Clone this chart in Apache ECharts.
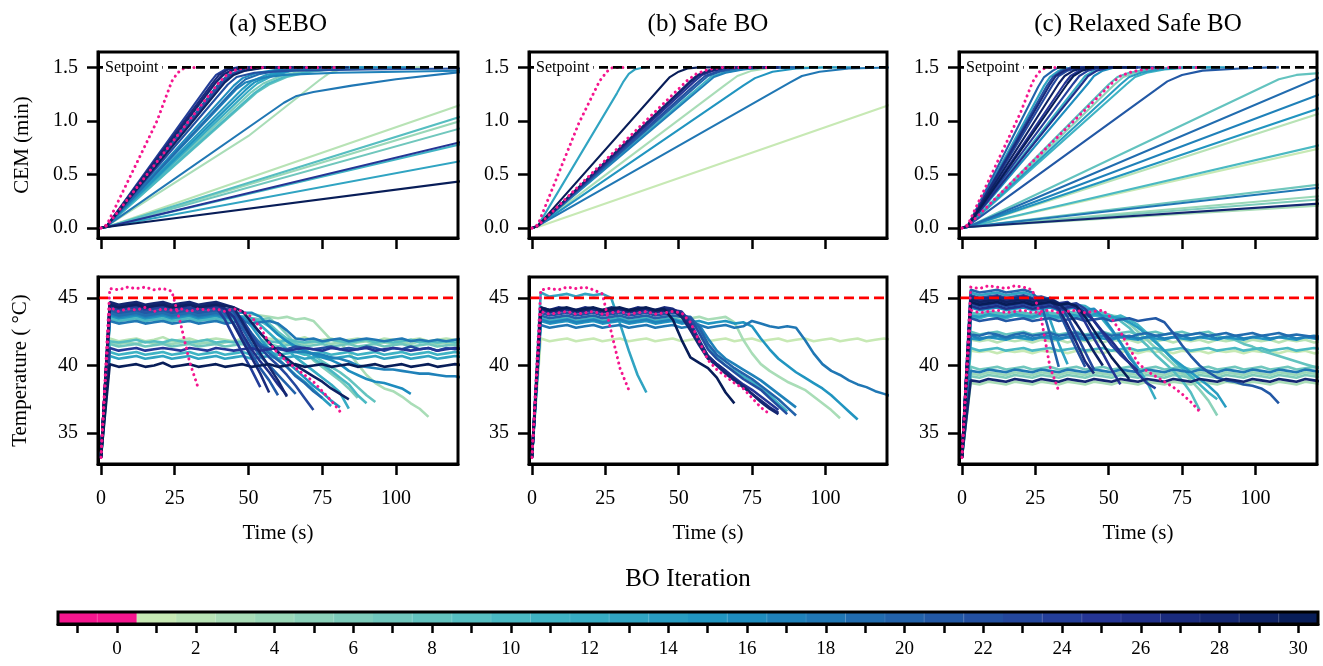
<!DOCTYPE html>
<html><head><meta charset="utf-8">
<script src="https://cdn.jsdelivr.net/npm/echarts@6/dist/echarts.min.js"></script>
<style>html,body{margin:0;padding:0;background:#fff}#c{width:1323px;height:666px}</style>
</head><body><div id="c"></div>
<script>
// ---------------- DATA ----------------
const TIME_GRID = [0,3,6,9,12,15,18,21,24,27,30,33,36,39,42,45,48,51,54,57,60,63,66,69,72,75,78,81,84,87,90,93,96,99,102,105,108,111,114,117,120,123];
const PANEL_TITLES = ['(a) SEBO','(b) Safe BO','(c) Relaxed Safe BO'];
const X_TICKS = [0,25,50,75,100];
const CEM_TICKS = [0,0.5,1.0,1.5];
const TEMP_TICKS = [35,40,45];
const CB_ITERS = [-1,0,1,2,3,4,5,6,7,8,9,10,11,12,13,14,15,16,17,18,19,20,21,22,23,24,25,26,27,28,29,30];
const SETPOINT_CEM = 1.5;
const TEMP_LIMIT = 45;

// (a) SEBO
const sebo_iters = [-1,0,24,27,26,28,21,23,29,22,16,19,17,14,12,10,3,18,20,15,8,6,2,9,4,7,25,11,13,30];
const sebo_temp = [
[33.2,45.7,45.6,45.8,45.7,45.8,45.6,45.7,45.5,43.1,40.3,38.3],
[33.2,44.3,44.0,44.2,44.1,44.3,44.0,44.2,44.1,44.2,44.0,44.2,44.1,44.2,44.0,44.2,44.0,43.6,42.8,41.7,40.9,40.3,39.8,39.3,38.8,38.1,37.4,36.6],
[33.2,44.4,44.2,44.3,44.4,44.2,44.3,44.4,44.2,44.3,44.2,44.4,44.3,44.3,43.4,42.1,40.9,39.7,38.4],
[33.2,44.6,44.4,44.5,44.6,44.4,44.5,44.6,44.4,44.5,44.6,44.4,44.5,44.6,44.2,43.0,41.8,40.6,39.4,38.0],
[33.2,44.5,44.3,44.4,44.5,44.3,44.4,44.5,44.4,44.3,44.5,44.4,44.3,44.5,44.2,43.6,42.3,41.2,40.3,39.5,38.6,37.8],
[33.2,44.7,44.5,44.6,44.7,44.5,44.6,44.7,44.5,44.6,44.7,44.5,44.6,44.7,44.5,44.3,43.2,42.0,40.9,39.9,38.9,37.7],
[33.2,44.1,43.9,44.0,44.1,43.9,44.0,44.1,43.9,44.0,44.1,43.9,44.0,44.1,43.9,43.1,42.0,40.9,39.8,38.9,37.8],
[33.2,44.3,44.1,44.2,44.3,44.1,44.2,44.3,44.1,44.2,44.3,44.1,44.2,44.3,44.2,44.1,43.4,42.3,41.3,40.6,40.0,39.3,38.5,37.6,36.7],
[33.2,44.5,44.3,44.4,44.5,44.3,44.4,44.5,44.3,44.4,44.5,44.3,44.4,44.5,44.4,44.3,44.0,43.2,42.4,41.7,41.0,40.5,40.0,39.6,39.2,38.8,38.3,37.9,37.5],
[33.2,44.3,44.1,44.2,44.3,44.1,44.2,44.3,44.1,44.2,44.3,44.1,44.2,44.3,44.1,44.0,43.0,42.0,41.4,41.2,41.3,41.2,41.4,41.3,41.2,41.3,41.4,41.2,41.3,41.2,41.4,41.3,41.1,41.3,41.2,41.4,41.2,41.3,41.1,41.3,41.2,41.3],
[33.2,44.0,43.8,43.9,44.0,43.8,43.9,44.0,43.8,43.9,44.0,43.8,43.9,44.0,43.8,43.9,43.9,43.9,43.6,42.9,42.3,41.8,41.4,41.1,40.8,40.6,40.4,40.1,39.6,39.3,39.0,38.8,38.7,38.5,38.3,37.9],
[33.2,43.9,43.7,43.8,43.9,43.7,43.8,43.9,43.7,43.8,43.9,43.7,43.8,43.9,43.7,43.8,43.3,42.4,41.6,40.9,40.4,39.9,39.2,38.7,38.1,37.6],
[33.2,43.8,43.6,43.7,43.8,43.6,43.7,43.8,43.6,43.7,43.8,43.6,43.7,43.8,43.6,43.7,43.2,42.3,41.6,41.3,41.2,41.1,41.0,41.0,40.9,40.8,40.6,40.5,40.3,40.0,39.9,39.8,39.7,39.7,39.6,39.5,39.4,39.4,39.3,39.2,39.2,39.1],
[33.2,43.8,43.6,43.7,43.8,43.6,43.7,43.8,43.6,43.7,43.8,43.6,43.7,43.8,43.6,43.7,43.6,42.9,42.0,41.2,40.5,39.9,39.3,38.8,38.2,37.6,37.0],
[33.2,43.7,43.5,43.6,43.7,43.5,43.6,43.7,43.5,43.6,43.7,43.5,43.6,43.7,43.5,43.6,43.6,43.5,43.0,42.4,41.8,41.2,40.6,40.1,39.6,39.1,38.6,38.0,36.8],
[33.2,43.5,43.3,43.4,43.5,43.3,43.4,43.5,43.3,43.4,43.5,43.3,43.4,43.5,43.3,43.4,43.5,43.4,43.3,42.9,42.3,41.8,41.3,40.9,40.5,40.1,39.6,39.1,38.6,37.8,37.2],
[33.2,43.4,43.3,43.5,43.4,43.3,43.5,43.4,43.3,43.5,43.4,43.3,43.5,43.4,43.3,43.5,43.6,43.8,43.7,43.6,43.5,43.6,43.4,43.5,43.3,42.6,41.9,41.7,41.0,40.1,39.3,38.7,38.3,38.1,37.7,37.2,36.8,36.2],
[33.2,43.3,43.1,43.2,43.3,43.1,43.2,43.3,43.1,43.2,43.3,43.1,43.2,43.3,43.1,43.2,43.3,43.1,43.2,43.3,43.1,42.6,42.0,41.9,42.0,41.8,41.9,42.0,41.8,41.9,42.0,41.9,41.8,41.9,42.0,41.8,41.9,41.8,41.9,41.8,41.9,42.0],
[33.2,44.1,43.9,44.0,44.1,43.9,44.0,44.1,43.9,44.0,44.1,43.9,44.0,44.1,44.0,43.6,42.7,41.6,40.7,40.0,39.3,38.6,37.9],
[33.2,43.7,43.5,43.6,43.7,43.5,43.6,43.7,43.5,43.6,43.7,43.5,43.6,43.7,43.5,43.6,43.5,43.1,42.4,41.7,41.0,40.3,39.7,39.1,38.5,38.0,37.4,36.9],
[33.2,43.5,43.3,43.4,43.3,43.5,43.4,43.3,43.5,43.4,43.3,43.5,43.4,43.3,43.5,43.4,43.3,43.5,43.4,43.1,42.5,42.0,41.6,41.2,40.8,40.3,39.9,39.5,39.0,38.4,37.8,37.3],
[33.2,43.6,43.4,43.5,43.6,43.4,43.5,43.6,43.4,43.5,43.6,43.4,43.5,43.6,43.4,43.5,43.6,43.5,43.4,43.5,43.0,42.3,41.6,41.0,40.4,39.9,39.4,38.9,38.3,37.6],
[33.2,42.0,41.8,41.9,42.0,41.8,41.9,42.1,41.8,41.9,42.0,41.8,41.9,42.0,41.9,41.8,42.0,41.9,41.8,42.0,41.9,41.8,41.9,42.1,41.8,41.9,42.0,41.8,41.9,42.0,41.9,41.8,42.0,41.9,41.8,41.9,42.0,41.8,41.9,42.0,41.9,41.8],
[33.2,41.8,41.7,41.8,41.9,41.7,41.8,41.7,41.9,41.8,41.7,41.8,41.9,41.7,41.8,41.7,41.8,41.9,41.7,41.8,41.7,41.9,41.8,41.7,41.8,41.7,41.9,41.8,41.7,41.8,41.9,41.7,41.8,41.7,41.8,41.9,41.7,41.8,41.7,41.8,41.7,41.8],
[33.2,41.7,41.6,41.7,41.6,41.8,41.6,41.7,41.6,41.7,41.8,41.6,41.7,41.6,41.7,41.8,41.6,41.7,41.6,41.7,41.8,41.6,41.7,41.6,41.7,41.8,41.6,41.7,41.6,41.7,41.8,41.6,41.7,41.6,41.7,41.6,41.8,41.7,41.6,41.7,41.6,41.7],
[33.2,41.6,41.4,41.5,41.6,41.4,41.5,41.6,41.4,41.5,41.6,41.4,41.5,41.6,41.4,41.5,41.6,41.4,41.5,41.6,41.4,41.5,41.6,41.4,41.5,41.6,41.4,41.5,41.6,41.4,41.5,41.6,41.4,41.5,41.6,41.4,41.5,41.6,41.4,41.5,41.5,41.4],
[33.2,41.3,41.1,41.2,41.3,41.1,41.2,41.3,41.2,41.1,41.3,41.2,41.1,41.3,41.2,41.1,41.2,41.3,41.1,41.2,41.3,41.1,41.2,41.3,41.2,41.1,41.3,41.2,41.1,41.2,41.3,41.1,41.2,41.3,41.2,41.1,41.2,41.3,41.1,41.2,41.3,41.2],
[33.2,41.0,40.8,40.9,41.0,40.8,40.9,41.0,40.8,40.9,41.0,40.8,40.9,41.0,40.8,40.9,41.0,40.8,40.9,41.0,40.8,40.9,41.0,40.8,40.9,41.0,40.8,40.9,41.0,40.8,40.9,41.0,40.8,40.9,41.0,40.8,40.9,41.0,40.8,40.9,41.0,40.9],
[33.2,40.7,40.5,40.6,40.7,40.5,40.6,40.7,40.5,40.6,40.7,40.5,40.6,40.7,40.5,40.6,40.7,40.5,40.6,40.7,40.5,40.6,40.7,40.5,40.6,40.7,40.5,40.6,40.7,40.5,40.6,40.7,40.5,40.6,40.7,40.5,40.6,40.7,40.5,40.6,40.7,40.6],
[33.2,40.1,39.9,40.0,40.1,39.9,40.0,40.2,39.9,40.0,40.1,39.9,40.0,40.1,39.9,40.0,40.1,39.9,40.0,40.1,39.9,40.0,40.1,39.9,40.0,40.1,39.9,40.0,40.1,39.9,40.0,40.1,39.9,40.0,40.1,39.9,40.0,40.1,39.9,40.0,40.1,40.0]
];
const sebo_cem = [
[[0,0],[2,0.03],[19,1.0],[24,1.37],[26,1.45],[28,1.49],[30,1.5],[33,1.5]],
[[0,0],[2,0.02],[40,1.36],[43,1.44],[46,1.48],[50,1.5],[81,1.5]],
[[0,0],[2,0.02],[37,1.36],[39,1.43],[42,1.48],[46,1.5],[54,1.5]],
[[0,0],[2,0.02],[38,1.36],[40,1.43],[43,1.48],[47,1.5],[57,1.5]],
[[0,0],[2,0.02],[38.5,1.35],[41,1.43],[44,1.47],[49,1.5],[63,1.5]],
[[0,0],[2,0.02],[39,1.36],[41.5,1.43],[45,1.48],[50,1.5],[63,1.5]],
[[0,0],[2,0.02],[40,1.35],[43,1.43],[47,1.47],[53,1.5],[60,1.5]],
[[0,0],[2,0.02],[41,1.35],[44,1.43],[48,1.47],[55,1.5],[72,1.5]],
[[0,0],[2,0.02],[42,1.36],[45,1.43],[49,1.47],[56,1.5],[84,1.5]],
[[0,0],[2,0.02],[43,1.34],[46,1.41],[52,1.45],[65,1.47],[90,1.48],[123,1.49]],
[[0,0],[2,0.02],[45,1.33],[48,1.40],[53,1.45],[60,1.48],[70,1.5],[105,1.5]],
[[0,0],[2,0.02],[46,1.32],[49,1.39],[54,1.44],[62,1.48],[72,1.5],[75,1.5]],
[[0,0],[2,0.02],[46,1.30],[49,1.36],[54,1.40],[62,1.43],[80,1.45],[123,1.47]],
[[0,0],[2,0.02],[48,1.30],[51,1.37],[56,1.43],[63,1.47],[72,1.5],[78,1.5]],
[[0,0],[2,0.02],[50,1.28],[53,1.35],[58,1.42],[65,1.47],[75,1.5],[84,1.5]],
[[0,0],[2,0.02],[52,1.26],[56,1.34],[62,1.41],[70,1.46],[80,1.49],[90,1.5]],
[[0,0],[2,0.02],[50,0.86],[74,1.38],[77,1.44],[81,1.48],[88,1.5],[111,1.5]],
[[0,0],[2,0.02],[62,1.17],[66,1.23],[72,1.27],[85,1.33],[100,1.39],[123,1.46]],
[[0,0],[2,0.02],[41,1.36],[44,1.43],[48,1.47],[54,1.5],[66,1.5]],
[[0,0],[2,0.02],[49,1.29],[52,1.36],[57,1.42],[64,1.47],[74,1.5],[81,1.5]],
[[0,0],[2,0.02],[53,1.27],[57,1.34],[63,1.41],[71,1.46],[82,1.49],[93,1.5]],
[[0,0],[2,0.02],[51,1.27],[55,1.35],[61,1.42],[69,1.47],[78,1.5],[87,1.5]],
[[0,0],[2,0.01],[123,1.16]],
[[0,0],[2,0.01],[123,1.05]],
[[0,0],[2,0.01],[123,1.01]],
[[0,0],[2,0.01],[123,0.94]],
[[0,0],[2,0.01],[123,0.81]],
[[0,0],[2,0.01],[123,0.79]],
[[0,0],[2,0.01],[123,0.63]],
[[0,0],[2,0.01],[123,0.44]]
];

// (b) Safe BO
const safe_iters = [-1,13,0,30,28,27,25,22,20,17,11,3,15,18,1];
const safe_temp = [
[33.2,45.6,45.7,45.6,45.8,45.7,45.8,45.6,45.3,42.5,39.8,38.2],
[33.2,45.4,45.1,45.2,45.3,45.1,45.3,45.2,45.3,45.0,43.1,41.1,39.3,38.0],
[33.2,44.0,43.8,43.9,44.0,43.8,43.9,44.0,43.8,43.9,44.0,43.8,43.9,44.0,43.8,43.9,44.0,43.9,43.2,41.8,40.4,39.7,39.2,38.7,38.3,37.6,36.9,36.4],
[33.2,44.3,44.1,44.2,44.3,44.1,44.2,44.3,44.1,44.2,44.3,44.1,44.2,44.3,44.1,44.2,43.4,41.9,40.6,40.2,39.8,39.1,38.0,37.2],
[33.2,44.2,44.0,44.1,44.2,44.0,44.1,44.2,44.0,44.1,44.2,44.0,44.1,44.2,44.0,44.1,44.1,43.6,42.6,41.5,40.5,40.0,39.4,38.9,38.4,37.9,37.3,36.8,36.4],
[33.2,44.3,44.1,44.3,44.2,44.1,44.3,44.2,44.1,44.3,44.2,44.1,44.3,44.2,44.1,44.3,44.2,43.8,42.9,41.8,40.7,40.1,39.6,39.0,38.5,37.9,37.4,36.9,36.5],
[33.2,44.1,43.9,44.0,44.1,43.9,44.0,44.1,43.9,44.0,44.1,43.9,44.0,44.1,43.9,44.0,44.1,44.0,43.2,41.9,40.7,40.1,39.6,39.1,38.6,38.2,37.7,37.2,36.7],
[33.2,43.9,43.7,43.8,43.9,43.7,43.8,43.9,43.7,43.8,43.9,43.7,43.8,43.9,43.7,43.8,43.9,43.8,43.5,42.4,41.2,40.5,40.0,39.5,39.0,38.6,38.2,37.6,37.0,36.4],
[33.2,43.7,43.5,43.6,43.7,43.5,43.6,43.7,43.5,43.6,43.7,43.5,43.6,43.7,43.5,43.6,43.7,43.6,43.6,42.8,41.6,40.8,40.3,39.8,39.4,39.0,38.5,38.0,37.5,36.9,36.3],
[33.2,43.4,43.2,43.3,43.4,43.2,43.3,43.4,43.2,43.3,43.4,43.2,43.3,43.4,43.2,43.3,43.4,43.2,43.3,43.0,42.0,41.1,40.5,40.1,39.7,39.3,38.9,38.4,37.9,37.4,36.9],
[33.2,43.5,43.3,43.4,43.5,43.3,43.4,43.5,43.3,43.4,43.5,43.3,43.4,43.5,43.3,43.4,43.5,43.3,43.4,42.6,41.5,40.6,40.0,39.6,39.2,38.8,38.3,37.8,37.2,36.6],
[33.2,43.6,43.4,43.5,43.6,43.4,43.5,43.6,43.4,43.5,43.6,43.4,43.5,43.6,43.4,43.5,43.6,43.4,43.5,43.6,43.4,43.5,43.6,43.2,41.9,40.9,40.1,39.6,39.2,38.8,38.5,38.2,37.7,37.2,36.7,36.1],
[33.2,43.3,43.1,43.2,43.3,43.1,43.2,43.3,43.1,43.2,43.3,43.1,43.2,43.3,43.1,43.2,43.3,43.1,43.2,43.3,43.1,43.2,43.3,43.1,43.2,42.9,42.0,41.2,40.5,40.0,39.5,39.1,38.7,38.3,37.8,37.2,36.6,36.0],
[33.2,43.0,42.8,42.9,43.0,42.8,42.9,43.0,42.8,42.9,43.0,42.8,42.9,43.0,42.8,42.9,43.0,42.8,42.9,43.0,42.8,42.9,43.0,42.8,42.9,43.3,43.1,42.9,42.8,42.9,42.8,41.9,40.9,40.1,39.6,39.3,38.9,38.6,38.4,38.1,37.9,37.7],
[33.2,42.0,41.8,41.9,42.0,41.8,41.9,42.0,41.8,41.9,42.0,41.8,41.9,42.0,41.8,41.9,42.0,41.8,41.9,42.0,41.8,41.9,42.0,41.8,41.9,42.0,41.8,41.9,42.0,41.8,41.9,42.0,41.8,41.9,42.0,41.8,41.9,42.0,41.8,41.9,42.0,41.9]
];
const safe_cem = [
[[0,0],[2,0.03],[16,0.98],[23,1.37],[25.5,1.46],[27.5,1.5],[33,1.5]],
[[0,0],[2,0.02],[29,1.26],[31,1.36],[33,1.44],[35,1.48],[38,1.5],[39,1.5]],
[[0,0],[2,0.02],[53,1.38],[56,1.44],[60,1.48],[65,1.5],[81,1.5]],
[[0,0],[2,0.02],[45,1.35],[47,1.41],[50,1.46],[53,1.49],[57,1.5],[69,1.5]],
[[0,0],[2,0.02],[53.5,1.36],[56.5,1.43],[60,1.47],[65,1.5],[84,1.5]],
[[0,0],[2,0.02],[54,1.36],[57,1.43],[61,1.47],[66,1.5],[84,1.5]],
[[0,0],[2,0.02],[55,1.36],[58,1.43],[62,1.47],[67,1.5],[84,1.5]],
[[0,0],[2,0.02],[56,1.35],[59,1.42],[63,1.46],[68,1.49],[74,1.5],[87,1.5]],
[[0,0],[2,0.02],[57,1.35],[60,1.42],[64,1.46],[70,1.49],[76,1.5],[90,1.5]],
[[0,0],[2,0.02],[59,1.34],[62,1.41],[66,1.45],[72,1.48],[80,1.5],[90,1.5]],
[[0,0],[2,0.02],[58,1.34],[61,1.41],[65,1.45],[71,1.48],[78,1.5],[87,1.5]],
[[0,0],[2,0.02],[66,1.34],[70,1.42],[75,1.47],[82,1.5],[105,1.5]],
[[0,0],[2,0.02],[72,1.33],[76,1.40],[82,1.46],[90,1.49],[100,1.5],[111,1.5]],
[[0,0],[2,0.02],[88,1.36],[92,1.42],[98,1.46],[108,1.49],[123,1.5]],
[[0,0],[2,0.01],[123,1.16]]
];

// (c) Relaxed Safe BO
const relaxed_iters = [-1,0,20,22,13,27,23,29,25,30,24,12,26,16,9,5,14,11,21,8,19,17,15,2,10,1,7,18,4,6,28,3];
const relaxed_temp = [
[33.2,45.8,45.7,45.9,45.8,45.7,45.9,45.8,45.6,43.5,39.9,38.1],
[33.2,44.1,43.9,44.0,44.1,43.9,44.0,44.1,43.9,44.0,44.1,43.9,44.0,44.1,43.9,44.0,44.1,43.5,42.5,41.3,40.2,39.6,39.2,38.8,38.4,37.9,37.3,36.6],
[33.2,45.6,45.4,45.5,45.6,45.4,45.5,45.6,45.4,44.6,42.3,39.9],
[33.2,45.2,45.0,45.1,45.2,45.0,45.1,45.2,45.0,45.1,44.9,44.0,42.6,41.2,39.9],
[33.2,45.4,45.2,45.3,45.4,45.2,45.3,45.4,45.2,45.0,43.4,41.6,40.1],
[33.2,45.1,44.9,45.0,45.1,44.9,45.0,45.1,44.9,45.0,44.8,44.2,43.0,41.7,40.3,39.4],
[33.2,45.0,44.8,44.9,45.0,44.8,44.9,45.0,44.8,44.9,45.0,44.6,43.6,42.3,41.0,39.7],
[33.2,44.9,44.7,44.8,44.9,44.7,44.8,44.9,44.7,44.8,44.9,44.6,44.0,43.1,42.1,41.0,40.0],
[33.2,44.8,44.6,44.7,44.8,44.6,44.7,44.8,44.6,44.7,44.8,44.6,44.7,44.2,43.2,42.0,40.9,39.7,38.6],
[33.2,44.7,44.5,44.6,44.7,44.5,44.6,44.7,44.5,44.6,44.7,44.5,44.6,44.4,43.6,42.6,41.6,40.6,39.8,39.0],
[33.2,44.6,44.4,44.5,44.6,44.4,44.5,44.6,44.4,44.5,44.6,44.4,44.5,44.6,44.2,43.3,42.4,41.5,40.8,40.2,39.4,38.7,38.3],
[33.2,44.5,44.3,44.4,44.5,44.3,44.4,44.5,44.3,44.4,44.5,44.3,44.4,44.5,44.4,44.0,43.4,42.6,41.7,40.8,39.8,38.8,37.5],
[33.2,44.4,44.2,44.3,44.4,44.2,44.3,44.4,44.2,44.3,44.4,44.2,44.3,44.4,43.9,43.3,42.5,41.8,41.0,40.2,39.6],
[33.2,44.3,44.1,44.2,44.3,44.1,44.2,44.3,44.1,44.2,44.3,44.1,44.2,44.3,44.1,44.2,43.6,42.7,41.7,40.6,39.8],
[33.2,43.9,43.8,44.0,43.9,43.8,44.0,43.9,43.8,44.0,43.9,43.8,44.0,43.9,43.8,44.0,43.9,43.7,43.3,42.8,42.1,41.5,40.8,40.2,39.6,38.9,38.0,36.7],
[33.2,43.8,43.7,43.9,43.8,43.7,43.9,43.8,43.7,43.9,43.8,43.7,43.9,43.8,43.7,43.9,43.8,43.7,43.6,43.1,42.5,41.9,41.3,40.7,40.1,39.5,38.9,38.2,37.4,36.3],
[33.2,43.7,43.6,43.8,43.7,43.6,43.8,43.7,43.6,43.8,43.7,43.6,43.8,43.7,43.6,43.8,43.7,43.6,43.5,43.2,42.8,42.3,41.7,41.1,40.5,40.0,39.5,39.0,38.5,37.9,36.9],
[33.2,43.6,43.5,43.7,43.6,43.5,43.7,43.6,43.5,43.7,43.6,43.5,43.7,43.6,43.5,43.7,43.6,43.5,43.7,43.4,43.0,42.4,41.8,41.1,40.4,39.8,39.2,38.6,38.0,37.5],
[33.2,43.5,43.3,43.4,43.5,43.3,43.4,43.5,43.3,43.4,43.5,43.3,43.4,43.5,43.3,43.4,43.5,43.3,43.4,43.5,43.3,43.4,43.5,43.2,42.4,41.5,40.7,40.0,39.5,39.1,38.9,38.8,38.6,38.5,38.3,37.9,37.2],
[33.2,42.5,42.3,42.4,42.5,42.3,42.4,42.5,42.3,42.4,42.5,42.3,42.4,42.5,42.3,42.4,42.5,42.3,42.4,42.5,42.3,42.4,42.5,42.3,42.4,42.5,42.3,42.4,42.5,42.2,42.0,41.9,41.6,41.4,41.1,40.9,40.7,40.5,40.3,40.1,39.9,39.8],
[33.2,42.3,42.2,42.4,42.3,42.1,42.3,42.4,42.2,42.3,42.4,42.2,42.3,42.4,42.2,42.3,42.4,42.2,42.3,42.1,42.3,42.4,42.2,42.3,42.4,42.2,42.3,42.4,42.2,42.3,42.4,42.2,42.3,42.4,42.2,42.3,42.4,42.2,42.3,42.2,42.1,42.0],
[33.2,42.2,42.0,42.1,42.2,42.0,42.1,42.2,42.0,42.1,42.2,42.0,42.1,42.2,42.0,42.1,42.2,42.0,42.1,42.2,42.0,42.1,42.2,42.0,42.1,42.2,42.0,42.1,42.2,42.0,42.1,42.2,42.0,42.1,42.2,42.0,42.1,42.2,42.0,42.1,42.2,42.1],
[33.2,42.0,41.9,42.1,42.0,41.9,42.1,42.0,41.9,42.1,42.0,41.9,42.1,42.0,41.9,42.1,42.0,41.9,42.1,42.0,41.9,42.1,42.0,41.9,42.1,42.0,41.9,42.1,42.0,41.9,42.1,42.0,41.9,42.1,42.0,41.9,42.1,42.0,41.9,42.1,42.0,41.9],
[33.2,41.9,41.8,41.9,41.7,41.9,41.8,41.9,41.7,41.9,41.8,41.9,41.7,41.9,41.8,41.9,41.7,41.9,41.8,41.9,41.7,41.9,41.8,41.9,41.7,41.9,41.8,41.9,41.7,41.9,41.8,41.9,41.7,41.9,41.8,41.9,41.7,41.9,41.8,41.9,41.7,41.8],
[33.2,41.3,41.1,41.2,41.3,41.1,41.2,41.3,41.1,41.2,41.3,41.1,41.2,41.3,41.1,41.2,41.3,41.1,41.2,41.3,41.1,41.2,41.3,41.1,41.2,41.3,41.1,41.2,41.3,41.1,41.2,41.3,41.1,41.2,41.3,41.1,41.2,41.3,41.1,41.2,41.3,41.2],
[33.2,41.1,41.0,41.1,40.9,41.1,41.0,41.1,40.9,41.1,41.0,41.1,40.9,41.1,41.0,41.1,40.9,41.1,41.0,41.1,40.9,41.1,41.0,41.1,40.9,41.1,41.0,41.1,40.9,41.1,41.0,41.1,40.9,41.1,41.0,41.1,40.9,41.1,41.0,41.1,40.9,41.0],
[33.2,39.9,39.7,39.8,39.9,39.7,39.8,39.9,39.7,39.8,39.9,39.7,39.8,39.9,39.7,39.8,39.9,39.7,39.8,39.9,39.7,39.8,39.9,39.7,39.8,39.9,39.7,39.8,39.9,39.7,39.8,39.9,39.7,39.8,39.9,39.7,39.8,39.9,39.7,39.8,39.9,39.8],
[33.2,39.6,39.5,39.7,39.6,39.5,39.7,39.6,39.5,39.7,39.6,39.5,39.7,39.6,39.5,39.7,39.6,39.5,39.7,39.6,39.5,39.7,39.6,39.5,39.7,39.6,39.5,39.7,39.6,39.5,39.7,39.6,39.5,39.7,39.6,39.5,39.7,39.6,39.5,39.7,39.6,39.5],
[33.2,39.4,39.3,39.5,39.4,39.3,39.5,39.4,39.3,39.5,39.4,39.3,39.5,39.4,39.3,39.5,39.4,39.3,39.5,39.4,39.3,39.5,39.4,39.3,39.5,39.4,39.3,39.5,39.4,39.3,39.5,39.4,39.3,39.5,39.4,39.3,39.5,39.4,39.3,39.5,39.4,39.3],
[33.2,39.2,39.1,39.3,39.2,39.1,39.3,39.2,39.1,39.3,39.2,39.1,39.3,39.2,39.1,39.3,39.2,39.1,39.3,39.2,39.1,39.3,39.2,39.1,39.3,39.2,39.1,39.3,39.2,39.1,39.3,39.2,39.1,39.3,39.2,39.1,39.3,39.2,39.1,39.3,39.2,39.1],
[33.2,38.9,38.8,39.0,38.9,38.8,39.0,38.9,38.8,39.0,38.9,38.8,39.0,38.9,38.8,39.0,38.9,38.8,39.0,38.9,38.8,39.0,38.9,38.8,39.0,38.9,38.8,39.0,38.9,38.8,39.0,38.9,38.8,39.0,38.9,38.8,39.0,38.9,38.8,39.0,38.9,38.8],
[33.2,38.7,38.6,38.8,38.7,38.6,38.8,38.7,38.6,38.8,38.7,38.6,38.8,38.7,38.6,38.8,38.7,38.6,38.8,38.7,38.6,38.8,38.7,38.6,38.8,38.7,38.6,38.8,38.7,38.6,38.8,38.7,38.6,38.8,38.7,38.6,38.8,38.7,38.6,38.8,38.7,38.6]
];
const relaxed_cem = [
[[0,0],[2,0.03],[20,1.08],[24,1.36],[26,1.45],[28,1.49],[30,1.5],[33,1.5]],
[[0,0],[2,0.02],[51,1.35],[54,1.42],[58,1.46],[64,1.49],[70,1.5],[81,1.5]],
[[0,0],[2,0.02],[26,1.32],[28,1.41],[31,1.47],[33,1.5]],
[[0,0],[2,0.02],[29,1.33],[31,1.41],[34,1.47],[37,1.5],[42,1.5]],
[[0,0],[2,0.02],[28,1.33],[30,1.41],[33,1.47],[36,1.5]],
[[0,0],[2,0.02],[30,1.34],[32,1.42],[35,1.47],[38,1.5],[45,1.5]],
[[0,0],[2,0.02],[31,1.34],[33,1.42],[36,1.47],[40,1.5],[45,1.5]],
[[0,0],[2,0.02],[33,1.35],[35,1.42],[38,1.47],[42,1.5],[48,1.5]],
[[0,0],[2,0.02],[35,1.35],[37,1.42],[40,1.47],[44,1.5],[54,1.5]],
[[0,0],[2,0.02],[36,1.35],[38,1.42],[41,1.47],[45,1.5],[57,1.5]],
[[0,0],[2,0.02],[38,1.35],[40,1.42],[43,1.47],[47,1.5],[66,1.5]],
[[0,0],[2,0.02],[40,1.35],[42,1.42],[45,1.47],[49,1.5],[66,1.5]],
[[0,0],[2,0.02],[41,1.35],[43,1.42],[46,1.47],[50,1.5],[60,1.5]],
[[0,0],[2,0.02],[43,1.35],[45,1.42],[48,1.47],[52,1.5],[60,1.5]],
[[0,0],[2,0.02],[50,1.34],[53,1.41],[57,1.45],[63,1.48],[72,1.5],[81,1.5]],
[[0,0],[2,0.02],[52,1.34],[55,1.41],[59,1.45],[65,1.48],[74,1.5],[87,1.5]],
[[0,0],[2,0.02],[54,1.34],[57,1.41],[61,1.45],[67,1.48],[76,1.5],[90,1.5]],
[[0,0],[2,0.02],[56,1.34],[59,1.41],[63,1.45],[69,1.48],[78,1.5],[87,1.5]],
[[0,0],[2,0.02],[66,1.29],[70,1.37],[75,1.43],[82,1.47],[95,1.49],[105,1.5],[108,1.5]],
[[0,0],[2,0.01],[108,1.39],[114,1.43],[123,1.45]],
[[0,0],[2,0.01],[123,1.42]],
[[0,0],[2,0.01],[123,1.26]],
[[0,0],[2,0.01],[123,1.13]],
[[0,0],[2,0.01],[123,1.08]],
[[0,0],[2,0.01],[123,0.78]],
[[0,0],[2,0.01],[123,0.75]],
[[0,0],[2,0.01],[123,0.41]],
[[0,0],[2,0.01],[123,0.38]],
[[0,0],[2,0.01],[123,0.30]],
[[0,0],[2,0.01],[123,0.27]],
[[0,0],[2,0.01],[123,0.23]],
[[0,0],[2,0.01],[123,0.21]]
];

// ---------------- STYLE / LAYOUT ----------------
const FONT = '"Liberation Serif","DejaVu Serif",serif';
const CMAP_STOPS = ['#c7e9b4','#7fcdbb','#41b6c4','#1d91c0','#225ea8','#253494','#081d58'];
const PINK = '#f5168e';
const COL_LEFT = [98, 529, 959], COL_W = [360, 358, 358];
const ROW_TOP = [52, 277], ROW_H = [186, 187];
const X_RANGE = [-1, 121];
const CEM_RANGE = [-0.093, 1.644];
const TEMP_RANGE = [32.71, 46.55];
const CB = {left: 58, top: 612, width: 1260, height: 12};

function hexToRgb(h){return [parseInt(h.slice(1,3),16),parseInt(h.slice(3,5),16),parseInt(h.slice(5,7),16)];}
function iterColor(it){
  if (it <= 0) return PINK;
  const f = (it-1)/29*(CMAP_STOPS.length-1);
  const i = Math.min(Math.floor(f), CMAP_STOPS.length-2);
  const r = f - i;
  const a = hexToRgb(CMAP_STOPS[i]), b = hexToRgb(CMAP_STOPS[i+1]);
  return 'rgb(' + a.map((v,j)=>Math.round(v+(b[j]-v)*r)).join(',') + ')';
}

const chart = echarts.init(document.getElementById('c'), null, {renderer:'canvas'});
const grids = [], xAxes = [], yAxes = [], series = [];
for (let r = 0; r < 2; r++) for (let c = 0; c < 3; c++) {
  const g = r*3 + c;
  grids.push({left: COL_LEFT[c], top: ROW_TOP[r], width: COL_W[c], height: ROW_H[r], containLabel:false});
  xAxes.push({gridIndex:g, type:'value', min:X_RANGE[0], max:X_RANGE[1], position:'bottom',
    axisLine:{show:true, onZero:false, lineStyle:{color:'#000', width:3}},
    axisTick:{show:true, length:11, lineStyle:{color:'#000', width:2.5}, customValues:X_TICKS},
    axisLabel:{show: r===1, customValues:X_TICKS, fontFamily:FONT, fontSize:20, color:'#000', margin:25},
    splitLine:{show:false}});
  const top = r===0;
  yAxes.push({gridIndex:g, type:'value', min: top?CEM_RANGE[0]:TEMP_RANGE[0], max: top?CEM_RANGE[1]:TEMP_RANGE[1], position:'left',
    axisLine:{show:true, onZero:false, lineStyle:{color:'#000', width:3}},
    axisTick:{show:true, length:11, lineStyle:{color:'#000', width:2.5}, customValues: top?CEM_TICKS:TEMP_TICKS},
    axisLabel:{show:true, customValues: top?CEM_TICKS:TEMP_TICKS, fontFamily:FONT, fontSize:20, color:'#000', margin:20,
      formatter: top ? (v => Number(v).toFixed(1)) : (v => String(v))},
    splitLine:{show:false}});
}
// colorbar grid
grids.push({left:CB.left, top:CB.top, width:CB.width, height:CB.height});
xAxes.push({gridIndex:6, type:'category', data: CB_ITERS.map(String), boundaryGap:true,
  axisLine:{show:true, onZero:false, lineStyle:{color:'#000', width:3}},
  axisTick:{show:true, alignWithLabel:true, interval:0, length:9, lineStyle:{color:'#000', width:2.5}},
  axisLabel:{interval:(idx, val) => Number(val) >= 0 && Number(val) % 2 === 0, fontFamily:FONT, fontSize:19, color:'#000', margin:16},
  splitLine:{show:false}});
yAxes.push({gridIndex:6, type:'value', min:0, max:1, show:false});

const PANELS = [
  {iters: sebo_iters, temp: sebo_temp, cem: sebo_cem},
  {iters: safe_iters, temp: safe_temp, cem: safe_cem},
  {iters: relaxed_iters, temp: relaxed_temp, cem: relaxed_cem}
];
const rank = it => it <= 0 ? 100 + it : it;
PANELS.forEach((p, pi) => {
  const order = p.iters.map((_, i) => i).sort((a, b) => rank(p.iters[a]) - rank(p.iters[b]));
  order.forEach(i => {
    const it = p.iters[i];
    const pink = it <= 0;
    const lsC = pink ? {color: PINK, width: 3, type: [0.1, 5.4], cap: 'round'} : {color: iterColor(it), width: 2.1};
    const lsT = pink ? {color: PINK, width: 3, type: [0.1, 5.4], cap: 'round'} : {color: iterColor(it), width: 2.6};
    series.push({type:'line', xAxisIndex:pi, yAxisIndex:pi, data: p.cem[i], symbol:'none', showSymbol:false,
      lineStyle: lsC, silent:true, emphasis:{disabled:true}, z: 2});
    const td = [];
    p.temp[i].forEach((v, k) => { if (TIME_GRID[k] !== undefined) td.push([TIME_GRID[k], v]); });
    series.push({type:'line', xAxisIndex:pi+3, yAxisIndex:pi+3, data: td, symbol:'none', showSymbol:false,
      lineStyle: lsT, silent:true, emphasis:{disabled:true}, z: 2});
  });
  series.push({type:'line', xAxisIndex:pi, yAxisIndex:pi, data:[[X_RANGE[0], SETPOINT_CEM],[X_RANGE[1], SETPOINT_CEM]],
    symbol:'none', lineStyle:{color:'#000', width:2.6, type:[9,5]}, silent:true, z: 4});
  series.push({type:'line', xAxisIndex:pi+3, yAxisIndex:pi+3, data:[[X_RANGE[0], TEMP_LIMIT],[X_RANGE[1], TEMP_LIMIT]],
    symbol:'none', lineStyle:{color:'#ff0000', width:2.8, type:[10,5]}, silent:true, z: 4});
});
series.push({type:'bar', xAxisIndex:6, yAxisIndex:6, barWidth:'100%', barCategoryGap:'0%', silent:true,
  data: CB_ITERS.map(it => ({value:1, itemStyle:{color: iterColor(it), borderColor: iterColor(it), borderWidth:1}}))});

chart.setOption({animation:false, backgroundColor:'#fff', textStyle:{fontFamily:FONT},
  grid: grids, xAxis: xAxes, yAxis: yAxes, series: series});

// text and frames
const gfx = [];
const txt = (x, y, text, size, extra) => Object.assign({type:'text', x, y, z:100,
  style:{text, fontFamily:FONT, fontSize:size, fill:'#000', align:'center', verticalAlign:'middle'}}, extra || {});
for (let c = 0; c < 3; c++) {
  const cx = COL_LEFT[c] + COL_W[c]/2;
  gfx.push(txt(cx, 24, PANEL_TITLES[c], 25));
  gfx.push(txt(cx, 533, 'Time (s)', 21));
  for (let r = 0; r < 2; r++) {
    gfx.push({type:'rect', z:90, shape:{x:COL_LEFT[c], y:ROW_TOP[r], width:COL_W[c], height:ROW_H[r]},
      style:{fill:'none', stroke:'#000', lineWidth:3}});
  }
  const sp = chart.convertToPixel({gridIndex:c}, [0, SETPOINT_CEM]);
  gfx.push({type:'text', x: COL_LEFT[c] + 5, y: sp[1], z:100,
    style:{text:'Setpoint', fontFamily:FONT, fontSize:16, fill:'#000', align:'left', verticalAlign:'middle',
      backgroundColor:'#fff', padding:[1,4,1,2]}});
}
gfx.push(txt(22, ROW_TOP[0] + ROW_H[0]/2, 'CEM (min)', 21, {rotation: Math.PI/2}));
gfx.push(txt(20, ROW_TOP[1] + ROW_H[1]/2, 'Temperature ( °C)', 21, {rotation: Math.PI/2}));
gfx.push(txt(CB.left + CB.width/2, 579, 'BO Iteration', 25));
gfx.push({type:'rect', z:90, shape:{x:CB.left, y:CB.top, width:CB.width, height:CB.height},
  style:{fill:'none', stroke:'#000', lineWidth:3}});
chart.setOption({graphic:{elements: gfx}});
</script>
</body></html>
